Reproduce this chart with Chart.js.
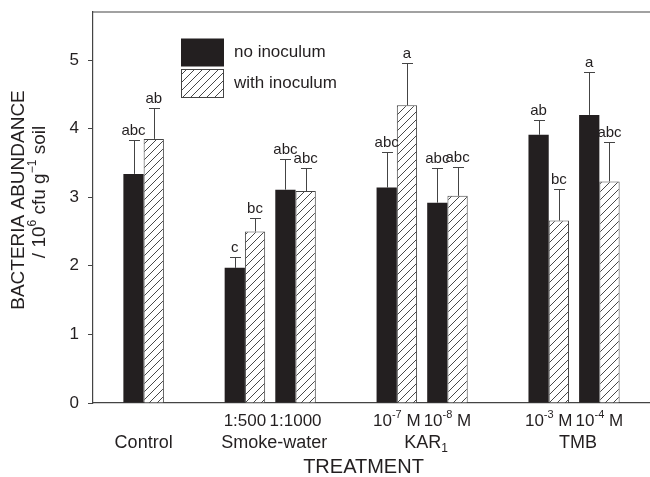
<!DOCTYPE html>
<html>
<head>
<meta charset="utf-8">
<script src="https://cdn.jsdelivr.net/npm/chart.js@4.4.1/dist/chart.umd.min.js"></script>
<style>
  html, body { margin: 0; padding: 0; background: #fff; }
</style>
</head>
<body>
<canvas id="chart" width="650" height="477"></canvas>
<script>
// slot positions of each treatment pair on the x axis
const positions = [1, 3, 4, 6, 7, 9, 10];

// means (10^6 cfu / g soil)
const noInoculum   = [3.34, 1.97, 3.11, 3.14, 2.92, 3.91, 4.20];
const withInoculum = [3.85, 2.50, 3.09, 4.34, 3.02, 2.66, 3.23];

// standard errors (drawn upward only)
const noInoculumErr   = [0.50, 0.16, 0.44, 0.52, 0.50, 0.21, 0.62];
const withInoculumErr = [0.45, 0.20, 0.33, 0.62, 0.42, 0.46, 0.58];

// significance letters
const noInoculumLetters   = ['abc', 'c', 'abc', 'abc', 'abc', 'ab', 'a'];
const withInoculumLetters = ['ab', 'bc', 'abc', 'a', 'abc', 'bc', 'abc'];

// dose labels under each pair, as [text, 'sup'|'sub'|''] segments
const doseLabels = [
  [],
  [['1:500']],
  [['1:1000']],
  [['10'], ['-7', 'sup'], [' M']],
  [['10'], ['-8', 'sup'], [' M']],
  [['10'], ['-3', 'sup'], [' M']],
  [['10'], ['-4', 'sup'], [' M']]
];

// treatment groups (index range into the arrays above)
const groups = [
  { label: [['Control']], from: 0, to: 0 },
  { label: [['Smoke-water']], from: 1, to: 2 },
  { label: [['KAR'], ['1', 'sub']], from: 3, to: 4 },
  { label: [['TMB']], from: 5, to: 6 }
];

const yTicks = [0, 1, 2, 3, 4, 5];
const seriesNames = ['no inoculum', 'with inoculum'];

const FONT = '"Liberation Sans", Arial, sans-serif';
const INK = '#231f20';
const LINE = '#444';

function hatch() {
  const c = document.createElement('canvas');
  c.width = 8; c.height = 8;
  const g = c.getContext('2d');
  g.fillStyle = '#fff';
  g.fillRect(0, 0, 8, 8);
  g.strokeStyle = '#333';
  g.lineWidth = 0.9;
  g.beginPath();
  g.moveTo(0, 8); g.lineTo(8, 0);
  g.moveTo(-1, 1); g.lineTo(1, -1);
  g.moveTo(7, 9); g.lineTo(9, 7);
  g.stroke();
  return g.createPattern(c, 'repeat');
}
const hatchFill = hatch();

function richWidth(ctx, segs, size) {
  let w = 0;
  segs.forEach(s => {
    ctx.font = (s[1] ? Math.round(size * 0.65) : size) + 'px ' + FONT;
    w += ctx.measureText(s[0]).width;
  });
  return w;
}

// draws segments centred on cx, middle at y
function drawRich(ctx, segs, cx, y, size) {
  let x = cx - richWidth(ctx, segs, size) / 2;
  ctx.textAlign = 'left';
  ctx.textBaseline = 'middle';
  segs.forEach(s => {
    const small = !!s[1];
    ctx.font = (small ? Math.round(size * 0.65) : size) + 'px ' + FONT;
    let dy = 0;
    if (s[1] === 'sup') dy = -size * 0.38;
    if (s[1] === 'sub') dy = size * 0.32;
    ctx.fillText(s[0], x, y + dy);
    x += ctx.measureText(s[0]).width;
  });
}

const decorations = {
  id: 'decorations',
  afterDatasetsDraw(chart) {
    const ctx = chart.ctx;
    const xs = chart.scales.x, ys = chart.scales.y;
    const area = chart.chartArea;
    ctx.save();

    // error bars + letters
    const errs = [noInoculumErr, withInoculumErr];
    const letters = [noInoculumLetters, withInoculumLetters];
    chart.data.datasets.forEach((ds, d) => {
      chart.getDatasetMeta(d).data.forEach((el, i) => {
        const top = ys.getPixelForValue(ds.data[i].y + errs[d][i]);
        ctx.strokeStyle = LINE;
        ctx.lineWidth = 1;
        ctx.beginPath();
        ctx.moveTo(Math.round(el.x) + 0.5, el.y);
        ctx.lineTo(Math.round(el.x) + 0.5, Math.round(top) + 0.5);
        ctx.moveTo(Math.round(el.x) - 5, Math.round(top) + 0.5);
        ctx.lineTo(Math.round(el.x) + 6, Math.round(top) + 0.5);
        ctx.stroke();
        ctx.fillStyle = INK;
        ctx.font = '15px ' + FONT;
        ctx.textAlign = 'center';
        ctx.textBaseline = 'alphabetic';
        ctx.fillText(letters[d][i], el.x, top - 5);
      });
    });

    // top frame line
    ctx.strokeStyle = LINE;
    ctx.lineWidth = 1.2;
    ctx.beginPath();
    ctx.moveTo(area.left, area.top);
    ctx.lineTo(area.right, area.top);
    ctx.stroke();

    // legend
    const lx = area.left + 88;
    ctx.fillStyle = INK;
    ctx.fillRect(lx, 38.5, 43, 28);
    ctx.fillStyle = hatchFill;
    ctx.fillRect(lx, 69, 43, 29);
    ctx.strokeStyle = LINE;
    ctx.lineWidth = 1;
    ctx.strokeRect(lx + 0.5, 69.5, 42, 28);
    ctx.fillStyle = INK;
    ctx.font = '17px ' + FONT;
    ctx.textAlign = 'left';
    ctx.textBaseline = 'middle';
    ctx.fillText(seriesNames[0], lx + 53, 52);
    ctx.fillText(seriesNames[1], lx + 53, 83);

    // x labels
    ctx.fillStyle = INK;
    doseLabels.forEach((segs, i) => {
      if (segs.length) drawRich(ctx, segs, xs.getPixelForValue(positions[i]), 421, 17);
    });
    groups.forEach(g => {
      const cx = (xs.getPixelForValue(positions[g.from]) + xs.getPixelForValue(positions[g.to])) / 2;
      drawRich(ctx, g.label, cx + (g.from === g.to ? 0 : 4), 443, 18);
    });
    drawRich(ctx, [['TREATMENT']], (area.left + area.right) / 2 - 8, 467, 20);

    // y title
    ctx.translate(19, 200);
    ctx.rotate(-Math.PI / 2);
    drawRich(ctx, [['BACTERIA ABUNDANCE']], 0, 0, 19);
    drawRich(ctx, [['/ 10'], ['6', 'sup'], [' cfu g'], ['\u22121', 'sup'], [' soil']], 8, 21, 19);
    ctx.restore();
  }
};

new Chart(document.getElementById('chart'), {
  type: 'bar',
  data: {
    datasets: [
      {
        label: seriesNames[0],
        data: positions.map((x, i) => ({ x, y: noInoculum[i] })),
        backgroundColor: INK,
        borderColor: INK,
        borderWidth: 0
      },
      {
        label: seriesNames[1],
        data: positions.map((x, i) => ({ x, y: withInoculum[i] })),
        backgroundColor: hatchFill,
        borderColor: LINE,
        borderWidth: 1
      }
    ]
  },
  options: {
    responsive: false,
    animation: false,
    devicePixelRatio: 1,
    layout: { padding: { top: 12, right: 0, left: 0, bottom: 0 } },
    categoryPercentage: 0.8,
    barPercentage: 1.0,
    plugins: {
      legend: { display: false },
      tooltip: { enabled: false }
    },
    scales: {
      x: {
        type: 'linear',
        min: 0,
        max: 11,
        offset: false,
        grid: { display: false },
        ticks: { display: false },
        border: { display: true, color: LINE, width: 1.2 },
        afterFit: s => { s.height = 74; s.paddingLeft = 0; s.paddingRight = 0; }
      },
      y: {
        min: 0,
        max: 5.7,
        afterBuildTicks: s => { s.ticks = yTicks.map(v => ({ value: v })); },
        grid: { display: true, drawOnChartArea: false, drawTicks: true, tickLength: 5, color: LINE },
        border: { display: true, color: LINE, width: 1.2 },
        ticks: {
          padding: 9,
          color: INK,
          font: { family: FONT, size: 17 }
        },
        afterFit: s => { s.width = 93; s.paddingTop = 0; s.paddingBottom = 0; }
      }
    }
  },
  plugins: [decorations]
});
</script>
</body>
</html>
